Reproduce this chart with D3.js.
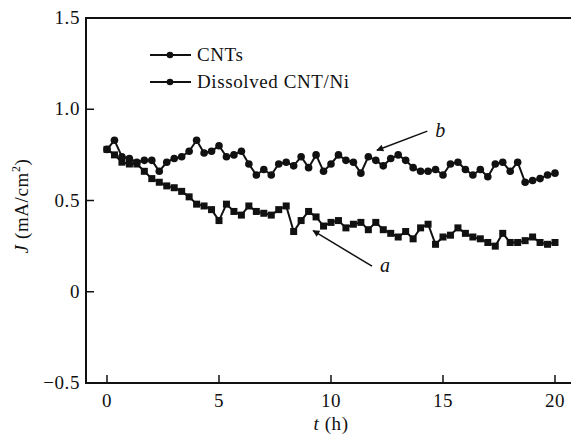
<!DOCTYPE html>
<html>
<head>
<meta charset="utf-8">
<script src="https://cdn.jsdelivr.net/npm/d3@7"></script>
<style>
body { margin: 0; background: #fff; }
text { font-family: "Liberation Serif", "DejaVu Serif", serif; fill: #111; letter-spacing: 0.6px; }
</style>
</head>
<body>
<svg id="chart" width="571" height="436"></svg>
<script>
// time in hours, one reading every 20 min
var hours = d3.range(0, 61).map(function (i) { return i / 3; });

// series a : CNTs (squares)
var cnts = [0.78,0.75,0.71,0.70,0.70,0.66,0.62,0.60,0.58,0.57,0.55,0.52,0.48,0.47,0.45,0.39,0.48,0.44,0.42,0.47,
  0.44,0.43,0.42,0.45,0.47,0.33,0.39,0.44,0.41,0.36,0.38,0.39,0.35,0.37,0.38,0.34,0.38,0.34,0.32,0.30,
  0.33,0.29,0.35,0.37,0.26,0.30,0.31,0.35,0.32,0.30,0.29,0.27,0.25,0.32,0.27,0.27,0.28,0.30,0.27,0.26,0.27];

// series b : Dissolved CNT/Ni (circles)
var dissolved = [0.78,0.83,0.74,0.73,0.71,0.72,0.72,0.66,0.71,0.73,0.74,0.77,0.83,0.76,0.77,0.80,0.74,0.75,0.77,0.70,
  0.64,0.67,0.64,0.70,0.71,0.69,0.74,0.68,0.75,0.66,0.70,0.75,0.72,0.71,0.65,0.74,0.72,0.69,0.73,0.75,
  0.72,0.68,0.66,0.66,0.67,0.64,0.70,0.71,0.67,0.64,0.67,0.63,0.70,0.71,0.66,0.71,0.60,0.61,0.62,0.64,0.65];

var xTicks = [0, 5, 10, 15, 20];
var yTicks = [-0.5, 0, 0.5, 1.0, 1.5];
var yTickLabels = ["\u22120.5", "0", "0.5", "1.0", "1.5"];
var legendNames = ["CNTs", "Dissolved CNT/Ni"];

// arrows: tail and head in data units, label
var arrows = [
  { label: "b", from: [14.3, 0.88], to: [12.05, 0.775] },
  { label: "a", from: [11.83, 0.14], to: [9.2, 0.335] }
];

var svg = d3.select("#chart");
var plotLeft = 86, plotTop = 18, plotBottom = 383;
var fs = 19;

var x = d3.scaleLinear().domain([0, 20]).range([107, 555]);
var y = d3.scaleLinear().domain([-0.5, 1.5]).range([plotBottom, plotTop]);

// frame (runs off the right edge like the scan)
svg.append("path")
  .attr("d", "M571," + plotTop + " L" + plotLeft + "," + plotTop + " L" + plotLeft + "," + plotBottom + " L571," + plotBottom)
  .attr("fill", "none").attr("stroke", "#111").attr("stroke-width", 2);

// y ticks, pointing inward
svg.selectAll(".ytick").data(yTicks).enter().append("line")
  .attr("x1", plotLeft).attr("x2", plotLeft + 8)
  .attr("y1", function (d) { return y(d); }).attr("y2", function (d) { return y(d); })
  .attr("stroke", "#111").attr("stroke-width", 1.5);
svg.selectAll(".ylab").data(yTicks).enter().append("text")
  .attr("x", plotLeft - 6).attr("y", function (d) { return y(d) + 6; })
  .attr("text-anchor", "end").attr("font-size", fs)
  .text(function (d, i) { return yTickLabels[i]; });

// x ticks, pointing up
svg.selectAll(".xtick").data(xTicks).enter().append("line")
  .attr("x1", function (d) { return x(d); }).attr("x2", function (d) { return x(d); })
  .attr("y1", plotBottom).attr("y2", plotBottom - 8)
  .attr("stroke", "#111").attr("stroke-width", 1.5);
svg.selectAll(".xlab").data(xTicks).enter().append("text")
  .attr("x", function (d) { return x(d); }).attr("y", 407)
  .attr("text-anchor", "middle").attr("font-size", fs)
  .text(function (d) { return d; });

// axis titles
var xt = svg.append("text").attr("x", 331).attr("y", 430).attr("text-anchor", "middle").attr("font-size", fs);
xt.append("tspan").attr("font-style", "italic").text("t");
xt.append("tspan").text(" (h)");

var yt = svg.append("text").attr("transform", "translate(28,206) rotate(-90)")
  .attr("text-anchor", "middle").attr("font-size", fs);
yt.append("tspan").attr("font-style", "italic").text("J");
yt.append("tspan").text(" (mA/cm");
yt.append("tspan").attr("font-size", 12).attr("dy", -8).text("2");
yt.append("tspan").attr("dy", 8).text(")");

// series
var line = d3.line().x(function (d, i) { return x(hours[i]); }).y(function (d) { return y(d); });

svg.append("path").datum(cnts).attr("d", line)
  .attr("fill", "none").attr("stroke", "#111").attr("stroke-width", 2);
svg.selectAll(".sq").data(cnts).enter().append("rect")
  .attr("x", function (d, i) { return x(hours[i]) - 3.5; })
  .attr("y", function (d) { return y(d) - 3.5; })
  .attr("width", 7).attr("height", 7).attr("fill", "#111");

svg.append("path").datum(dissolved).attr("d", line)
  .attr("fill", "none").attr("stroke", "#111").attr("stroke-width", 2);
svg.selectAll(".ci").data(dissolved).enter().append("circle")
  .attr("cx", function (d, i) { return x(hours[i]); })
  .attr("cy", function (d) { return y(d); })
  .attr("r", 3.8).attr("fill", "#111");

// legend
var leg = svg.selectAll(".leg").data(legendNames).enter().append("g")
  .attr("transform", function (d, i) { return "translate(150," + (55 + i * 27) + ")"; });
leg.append("line").attr("x1", 0).attr("x2", 41).attr("stroke", "#111").attr("stroke-width", 2);
leg.append("circle").attr("cx", 20).attr("r", 3.3).attr("fill", "#111");
leg.append("text").attr("x", 47).attr("y", 6).attr("font-size", fs).text(function (d) { return d; });

// arrows
svg.append("defs").append("marker").attr("id", "head")
  .attr("viewBox", "0 0 10 10").attr("refX", 9).attr("refY", 5)
  .attr("markerWidth", 9).attr("markerHeight", 7).attr("markerUnits", "userSpaceOnUse")
  .attr("orient", "auto")
  .append("path").attr("d", "M0,0 L10,5 L0,10 Z").attr("fill", "#111");

svg.selectAll(".arr").data(arrows).enter().append("line")
  .attr("x1", function (d) { return x(d.from[0]); }).attr("y1", function (d) { return y(d.from[1]); })
  .attr("x2", function (d) { return x(d.to[0]); }).attr("y2", function (d) { return y(d.to[1]); })
  .attr("stroke", "#111").attr("stroke-width", 1.5).attr("marker-end", "url(#head)");
svg.selectAll(".alab").data(arrows).enter().append("text")
  .attr("x", function (d) { return x(d.from[0]) + 8; })
  .attr("y", function (d) { return y(d.from[1]) + 6; })
  .attr("font-size", 20).attr("font-style", "italic")
  .text(function (d) { return d.label; });
</script>
</body>
</html>
